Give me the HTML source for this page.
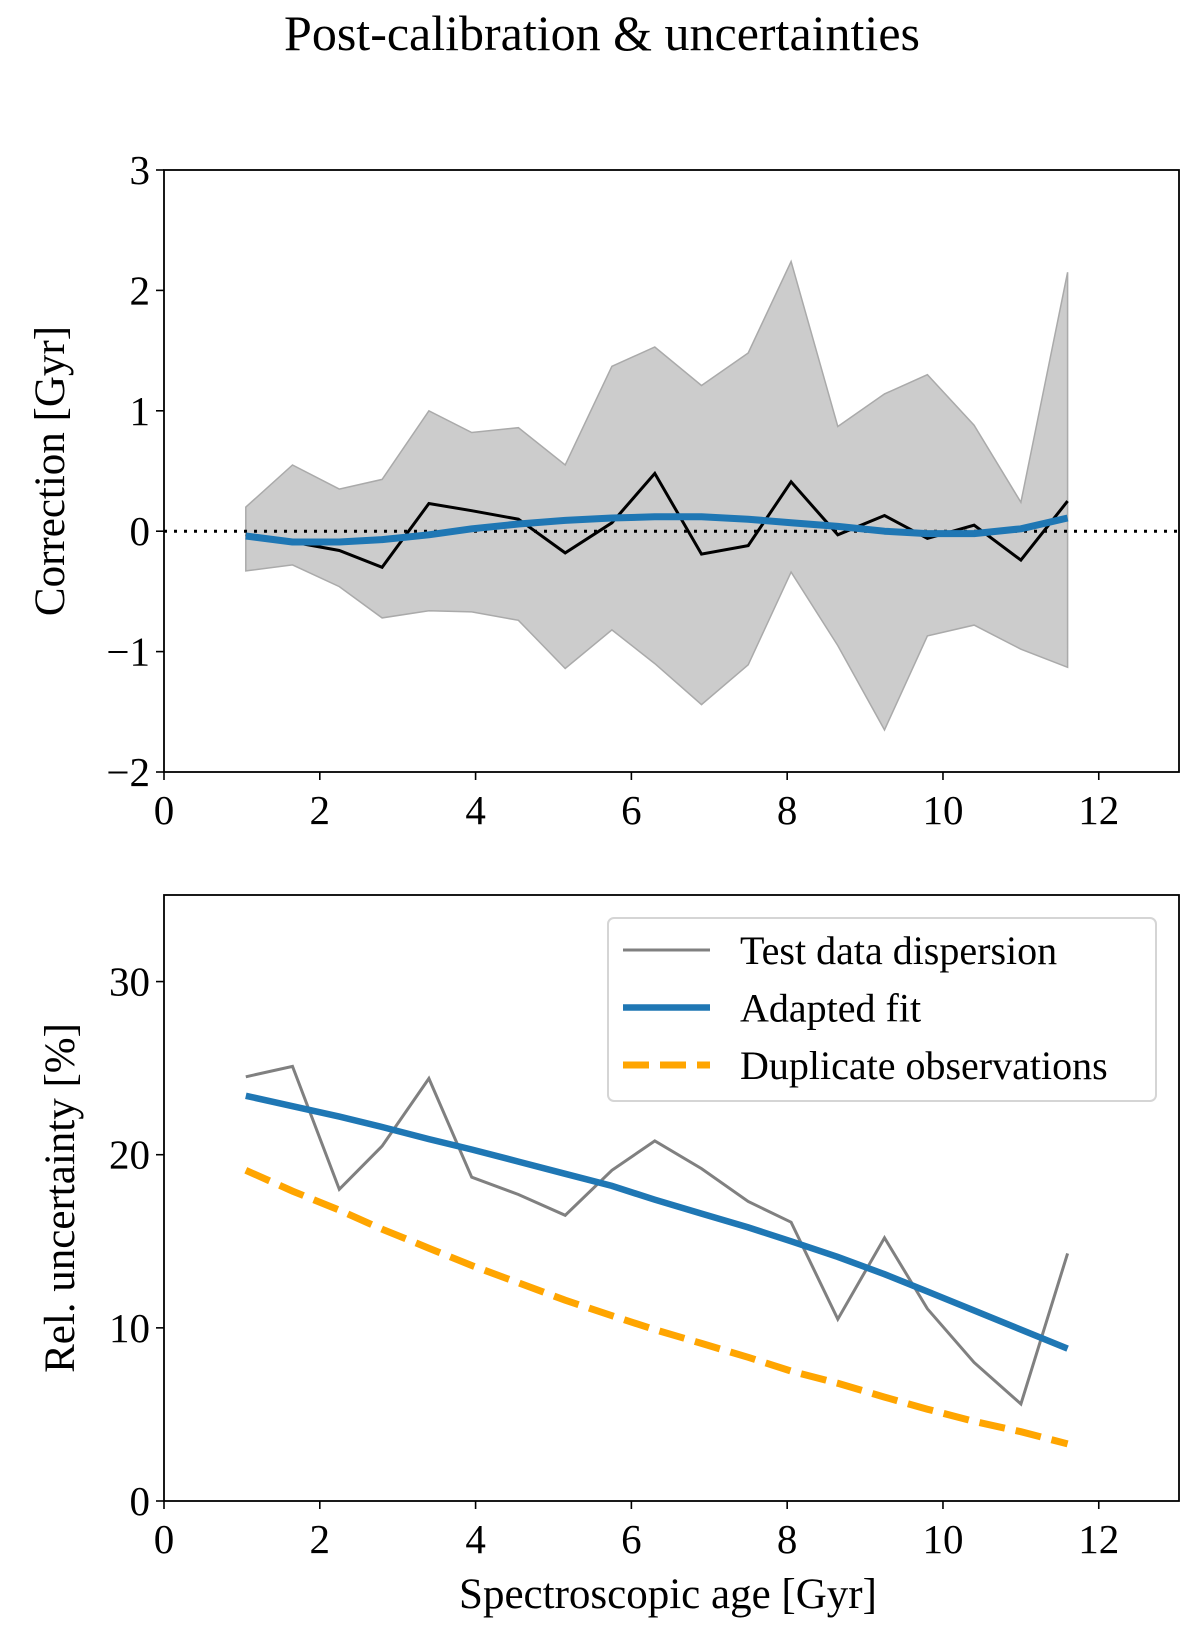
<!DOCTYPE html>
<html><head><meta charset="utf-8"><style>
html,body{margin:0;padding:0;background:#fff;}
svg text{font-family:"Liberation Serif",serif;fill:#000;}
</style></head><body>
<svg id="fig" width="1200" height="1639" viewBox="0 0 1200 1639" xmlns="http://www.w3.org/2000/svg">
<text x="602" y="50" font-size="50" text-anchor="middle">Post-calibration &amp; uncertainties</text>
<g id="top"></g>
<g id="bot"></g>
</svg>
<script>
const ages=[1.05,1.65,2.25,2.8,3.4,3.95,4.55,5.15,5.75,6.3,6.9,7.5,8.05,8.65,9.25,9.8,10.4,11.0,11.6];
const corrMedian=[-0.03,-0.09,-0.16,-0.30,0.23,0.17,0.10,-0.18,0.07,0.48,-0.19,-0.12,0.41,-0.03,0.13,-0.06,0.05,-0.24,0.25];
const corrUpper=[0.20,0.55,0.35,0.43,1.00,0.82,0.86,0.55,1.37,1.53,1.21,1.48,2.24,0.87,1.14,1.30,0.88,0.24,2.15];
const corrLower=[-0.33,-0.28,-0.46,-0.72,-0.66,-0.67,-0.74,-1.14,-0.82,-1.10,-1.44,-1.11,-0.34,-0.95,-1.65,-0.87,-0.78,-0.98,-1.13];
const corrFit=[-0.04,-0.09,-0.09,-0.07,-0.03,0.02,0.06,0.09,0.11,0.12,0.12,0.10,0.07,0.04,0.00,-0.02,-0.02,0.02,0.11];
const uncDispersion=[24.5,25.1,18.0,20.5,24.4,18.7,17.7,16.5,19.1,20.8,19.2,17.3,16.1,10.5,15.2,11.1,8.0,5.6,14.3];
const uncFit=[23.4,22.8,22.2,21.6,20.9,20.3,19.6,18.9,18.2,17.4,16.6,15.8,15.0,14.1,13.1,12.1,11.0,9.9,8.8];
const uncDuplicate=[19.1,17.9,16.8,15.7,14.6,13.6,12.6,11.6,10.7,9.9,9.1,8.3,7.5,6.8,6.0,5.3,4.6,4.0,3.3];
const xTicks=[0,2,4,6,8,10,12];
const topYTicks=[-2,-1,0,1,2,3];
const botYTicks=[0,10,20,30];

const NS="http://www.w3.org/2000/svg";
function mk(parent,tag,attrs,txt){const e=document.createElementNS(NS,tag);for(const k in attrs)e.setAttribute(k,attrs[k]);if(txt!==undefined)e.textContent=txt;parent.appendChild(e);return e;}
const L=164,R=1179,xmin=0,xmax=13.03;
const sx=v=>L+(v-xmin)/(xmax-xmin)*(R-L);
function fmt(v){return v<0?"\u2212"+(-v):String(v);}
function pts(xs,ys,sy){return xs.map((x,i)=>sx(x).toFixed(1)+","+sy(ys[i]).toFixed(1)).join(" ");}
function axes(g,T,B,ymin,ymax,yt,name){
  const sy=v=>B-(v-ymin)/(ymax-ymin)*(B-T);
  xTicks.forEach(t=>{
    const l=mk(g,"line",{x1:sx(t),x2:sx(t),y1:B,y2:B+8,stroke:"#000","stroke-width":1.6});
    
    
    const tx=mk(g,"text",{x:sx(t),y:B+52,"font-size":41,"text-anchor":"middle"},fmt(t));
    
    
  });
  yt.forEach(t=>{
    const l=mk(g,"line",{x1:L-8,x2:L,y1:sy(t),y2:sy(t),stroke:"#000","stroke-width":1.6});
    
    
    const tx=mk(g,"text",{x:L-14,y:sy(t)+14,"font-size":41,"text-anchor":"end"},fmt(t));
    
    
  });
  return sy;
}
function frame(g,T,B){
  const r=mk(g,"rect",{x:L,y:T,width:R-L,height:B-T,fill:"none",stroke:"#000","stroke-width":1.8});
  
  
}
(function(){
  const g=document.getElementById("top");const T=170,B=772;
  const sy=axes(g,T,B,-2,3,topYTicks);
  const band=mk(g,"polygon",{points:pts(ages,corrUpper,sy)+" "+pts(ages.slice().reverse(),corrLower.slice().reverse(),sy),fill:"#cccccc",stroke:"#aaaaaa","stroke-width":1.5});
  
  
  const z=mk(g,"line",{x1:L,x2:R,y1:sy(0),y2:sy(0),stroke:"#000","stroke-width":3,"stroke-dasharray":"3,7"});
  
  
  const m=mk(g,"polyline",{points:pts(ages,corrMedian,sy),fill:"none",stroke:"#000","stroke-width":3});
  
  
  const f=mk(g,"polyline",{points:pts(ages,corrFit,sy),fill:"none",stroke:"#1f77b4","stroke-width":7,"stroke-linejoin":"round"});
  
  
  frame(g,T,B);
  const yl=mk(g,"text",{x:0,y:0,"font-size":43,"text-anchor":"middle",transform:"translate(64,471) rotate(-90)"},"Correction [Gyr]");
  
  
})();
(function(){
  const g=document.getElementById("bot");const T=895,B=1501;
  const sy=axes(g,T,B,0,35,botYTicks);
  const d=mk(g,"polyline",{points:pts(ages,uncDispersion,sy),fill:"none",stroke:"#808080","stroke-width":3});
  
  
  const f=mk(g,"polyline",{points:pts(ages,uncFit,sy),fill:"none",stroke:"#1f77b4","stroke-width":6.5});
  
  
  const o=mk(g,"polyline",{points:pts(ages,uncDuplicate,sy),fill:"none",stroke:"#ffa500","stroke-width":7,"stroke-dasharray":"26,11"});
  
  
  frame(g,T,B);
  const lg=mk(g,"g",{});
  
  
  mk(lg,"rect",{x:608,y:918,width:548,height:183,rx:6,fill:"#fff","fill-opacity":0.8,stroke:"#d5d5d5","stroke-width":2});
  const items=[["Test data dispersion","#808080",3,""],["Adapted fit","#1f77b4",6.5,""],["Duplicate observations","#ffa500",7,"26,11"]];
  items.forEach((it,i)=>{
    const y=950+i*57.5;
    const e=mk(lg,"g",{});
    
    
    const a={x1:623,x2:710,y1:y,y2:y,stroke:it[1],"stroke-width":it[2]};if(it[3])a["stroke-dasharray"]=it[3];
    mk(e,"line",a);
    mk(e,"text",{x:740,y:y+14,"font-size":40},it[0]);
  });
  const yl=mk(g,"text",{x:0,y:0,"font-size":43,"text-anchor":"middle",transform:"translate(74,1198) rotate(-90)"},"Rel. uncertainty [%]");
  
  
  const xl=mk(g,"text",{x:668,y:1608,"font-size":43,"text-anchor":"middle"},"Spectroscopic age [Gyr]");
  
  
})();
</script>
</body></html>
